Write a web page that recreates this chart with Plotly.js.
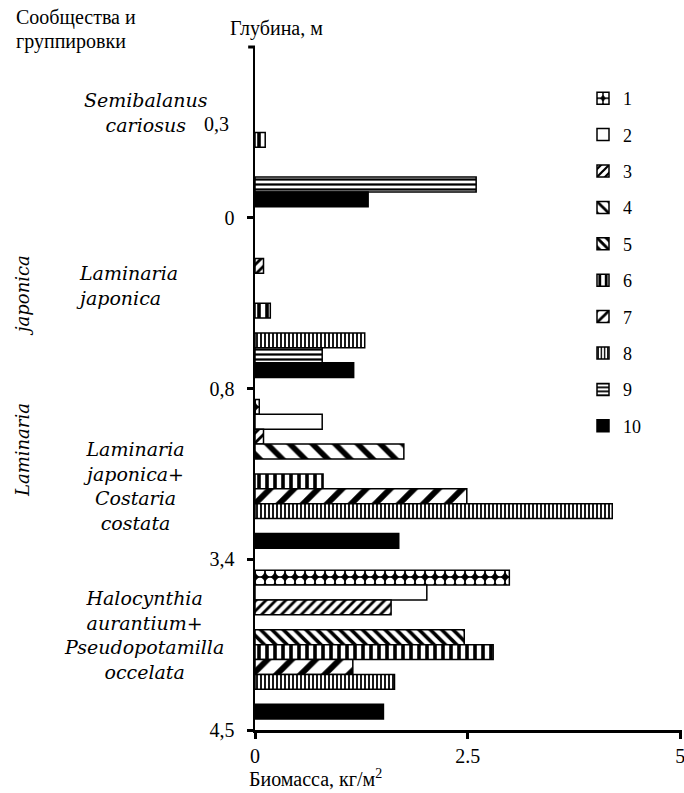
<!DOCTYPE html>
<html>
<head>
<meta charset="utf-8">
<script src="https://cdn.plot.ly/plotly-3.0.1.min.js"></script>
<style>html,body{margin:0;padding:0;background:#fff;}#chart{width:684px;height:793px;}</style>
</head>
<body>
<div id="chart"></div>
<script>
// Categories (communities), top to bottom
const groups = [0, 1, 2, 3];
const depthTickVals = [0.5, 1.5, 2.5, 3.5];
const depthTickText = ["0", "0,8", "3,4", "4,5"];
const seriesNames = ["1", "2", "3", "4", "5", "6", "7", "8", "9", "10"];

// Biomass, kg/m2 for each series in each community
const s1  = [null, null, 0.05, 2.99];
const s2  = [null, null, 0.79, 2.02];
const s3  = [null, 0.10, 0.10, 1.60];
const s4  = [null, null, 1.75, null];
const s5  = [null, null, null, 2.46];
const s6  = [0.12, 0.18, 0.80, 2.80];
const s7  = [null, null, 2.49, 1.15];
const s8  = [null, 1.29, 4.20, 1.64];
const s9  = [2.60, 0.79, null, null];
const s10 = [1.33, 1.16, 1.69, 1.51];
const seriesValues = [s1, s2, s3, s4, s5, s6, s7, s8, s9, s10];

const xTickVals = [0, 2.5, 5];
const xTickText = ["0", "2.5", "5"];

const patterns = [
  {shape: ".", bgcolor: "#000", fgcolor: "#fff", size: 10, solidity: 0.55},
  {shape: "", bgcolor: "#fff", fgcolor: "#fff"},
  {shape: "/", bgcolor: "#fff", fgcolor: "#000", size: 7, solidity: 0.4},
  {shape: "\\", bgcolor: "#fff", fgcolor: "#000", size: 16, solidity: 0.35},
  {shape: "\\", bgcolor: "#fff", fgcolor: "#000", size: 8, solidity: 0.45},
  {shape: "|", bgcolor: "#fff", fgcolor: "#000", size: 8, solidity: 0.45},
  {shape: "/", bgcolor: "#fff", fgcolor: "#000", size: 17, solidity: 0.35},
  {shape: "|", bgcolor: "#fff", fgcolor: "#000", size: 4, solidity: 0.45},
  {shape: "-", bgcolor: "#fff", fgcolor: "#000", size: 5, solidity: 0.45},
  {shape: "", bgcolor: "#000", fgcolor: "#000"}
];

const FONT = "Liberation Serif";
const IFONT = "DejaVu Serif";

const traces = seriesValues.map((vals, i) => ({
  type: "bar",
  orientation: "h",
  name: seriesNames[i],
  legendgroup: "g" + i,
  x: vals,
  y: groups,
  marker: {
    color: patterns[i].bgcolor,
    line: {color: "#000", width: 1.5},
    pattern: Object.assign({fillmode: "replace"}, patterns[i])
  },
  hoverinfo: "x+name"
}));

const W = 684, H = 793;
const mL = 255, mR = 2, mT = 47, mB = 63;
const pw = W - mL - mR, ph = H - mT - mB;
function px(x) { return (x - mL) / pw; }
function py(y) { return 1 - (y - mT) / ph; }

function ann(text, x, y, opts) {
  return Object.assign({
    text: text, xref: "paper", yref: "paper", x: px(x), y: py(y),
    showarrow: false, font: {family: FONT, size: 20, color: "#000"},
    xanchor: "center", yanchor: "middle"
  }, opts || {});
}

const italic = {family: IFONT, size: 19, color: "#000", style: "italic"};
const italicR = {family: IFONT, size: 18, color: "#000", style: "italic"};

const annotations = [
  ann("Сообщества и", 14, 17, {xanchor: "left"}),
  ann("группировки", 14, 41, {xanchor: "left"}),
  ann("Глубина, м", 276, 28),
  ann("0,3", 231, 124, {xanchor: "right"}),
  ann("Semibalanus<br>cariosus", 146, 112, {font: italic}),
  ann("Laminaria<br>japonica", 74, 285, {font: italic, xanchor: "left", align: "left"}),
  ann("Laminaria<br>japonica+<br>Costaria<br>costata", 134, 486, {font: italic}),
  ann("Halocynthia<br>aurantium+<br>Pseudopotamilla<br>occelata", 144, 635, {font: italic}),
  ann("Laminaria", 22, 450, {font: italicR, textangle: -90}),
  ann("japonica", 22, 295, {font: italicR, textangle: -90}),
  ann("Биомасса, кг/м<sup>2</sup>", 247, 778, {xanchor: "left", font: {family: FONT, size: 20, color: "#000"}})
];

const layout = {
  width: W, height: H,
  margin: {l: mL, r: mR, t: mT, b: mB},
  paper_bgcolor: "#fff", plot_bgcolor: "#fff",
  barmode: "group", bargap: 0.128, bargroupgap: 0,
  font: {family: FONT, size: 20, color: "#000"},
  showlegend: true,
  legend: {
    x: px(583), y: py(80), xanchor: "left", yanchor: "top",
    traceorder: "grouped", tracegroupgap: 10,
    font: {family: FONT, size: 18, color: "#000"},
    bgcolor: "rgba(0,0,0,0)", itemwidth: 30
  },
  xaxis: {
    range: [0, 5.02], showgrid: false, zeroline: false,
    showline: true, linecolor: "#000", linewidth: 2.5,
    ticks: "outside", ticklen: 6, tickwidth: 3, tickcolor: "#000",
    tickvals: xTickVals, ticktext: xTickText, ticklabeloverflow: "allow",
    tickfont: {family: FONT, size: 20, color: "#000"}, fixedrange: true
  },
  yaxis: {
    range: [3.5, -0.5], showgrid: false, zeroline: false,
    showline: true, linecolor: "#000", linewidth: 2.5,
    ticks: "outside", ticklen: 6, tickwidth: 3, tickcolor: "#000",
    tickvals: depthTickVals, ticktext: depthTickText,
    ticklabelstandoff: 8,
    tickfont: {family: FONT, size: 20, color: "#000"}, fixedrange: true
  },
  shapes: [
    {type: "line", xref: "paper", yref: "paper", x0: -0.016, x1: 0, y0: 1, y1: 1,
     line: {color: "#000", width: 3}}
  ],
  annotations: annotations
};

Plotly.newPlot("chart", traces, layout, {displayModeBar: false, staticPlot: true});
</script>
</body>
</html>
